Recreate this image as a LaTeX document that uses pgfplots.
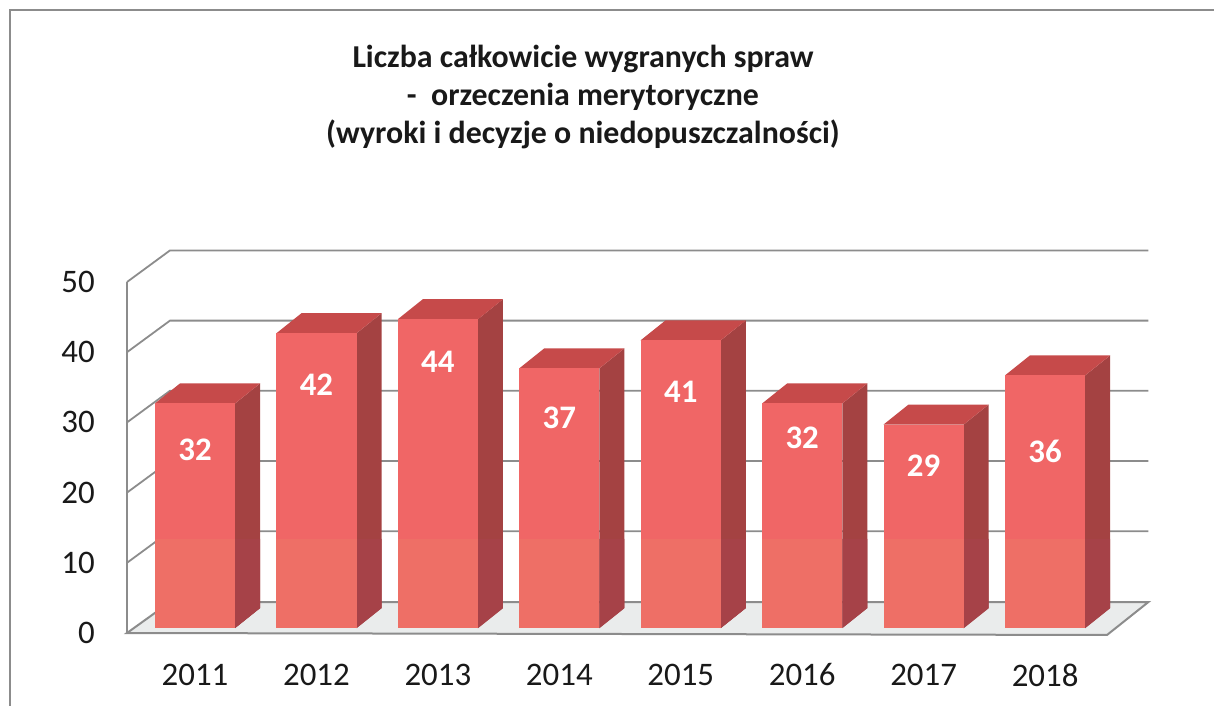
\documentclass[border=0pt]{standalone}
\usepackage{pgfplots}
\pgfplotsset{compat=1.18}
\usepackage{pgfplotstable}
\usepackage{fontspec}
\setmainfont{Carlito}
\definecolor{barfront}{RGB}{240,102,102}
\definecolor{barfrontlow}{RGB}{238,111,102}
\definecolor{barside}{RGB}{164,66,66}
\definecolor{barsidelow}{RGB}{166,66,72}
\definecolor{bartop}{RGB}{198,74,74}
\definecolor{gridgray}{RGB}{140,140,140}
\definecolor{floorgray}{RGB}{234,236,236}
\definecolor{textgray}{RGB}{25,25,25}

\pgfplotstableread{
x year v ly
0 2011 32 26.1
1 2012 42 35.3
2 2013 44 38.6
3 2014 37 30.7
4 2015 41 34.4
5 2016 32 27.8
6 2017 29 23.8
7 2018 36 25.8
}\datatable

\begin{document}
\begin{tikzpicture}
\path[use as bounding box] (0bp,0bp) rectangle (1214bp,-706bp);
\draw[gridgray, line width=2bp] (10bp,-706bp) -- (10bp,-10bp) -- (1214bp,-10bp);
\node[align=center, text=textgray, font=\bfseries\fontsize{32}{38.5}\selectfont] at (583bp,-97bp)
  {Liczba całkowicie wygranych spraw\\-\ \ orzeczenia merytoryczne\\(wyroki i decyzje o niedopuszczalności)};
\begin{axis}[
  at={(127bp,-633bp)}, anchor=south west,
  scale only axis, width=980bp, height=351bp,
  xmin=-0.56, xmax=7.51, ymin=0, ymax=50,
  clip=false,
  axis line style={draw=none},
  major tick length=0pt,
  ytick={0,10,...,50},
  xtick={0,1,...,7},
  xticklabels from table={\datatable}{year},
  /pgf/number format/assume math mode=true,
  tick label style={font=\fontsize{33}{38}\selectfont, text=textgray, inner sep=0pt},
  yticklabel style={anchor=east, xshift=-32bp},
  xticklabel style={anchor=center, yshift=-42bp},
]
% back wall and side wall grid lines
\pgfplotsinvokeforeach{10,20,30,40,50}{
  \pgfmathsetmacro\kb{#1+4.5}
  \edef\gridcmd{\noexpand\draw[gridgray, line width=1.8bp] (axis cs:-0.56,#1) -- (axis cs:-0.206,\kb) -- (axis cs:7.85,\kb);}
  \gridcmd
}
\draw[gridgray, line width=1.8bp] (axis cs:-0.56,0) -- (axis cs:-0.56,50);
% floor
\draw[gridgray, line width=2bp, fill=floorgray] (axis cs:-0.56,0) -- (axis cs:7.51,-0.28) -- (axis cs:7.85,4.4) -- (axis cs:-0.206,4.4) -- cycle;
% bars
\pgfplotsinvokeforeach{0,...,7}{
  \pgfplotstablegetelem{#1}{v}\of\datatable
  \pgfmathsetmacro\xl{#1-0.33}
  \pgfmathsetmacro\xr{#1+0.33}
  \pgfmathsetmacro\xlb{#1-0.33+0.206}
  \pgfmathsetmacro\xrb{#1+0.33+0.206}
  \pgfmathsetmacro\yt{\pgfplotsretval+0.7}
  \pgfmathsetmacro\ytb{\pgfplotsretval+0.7+2.85}
  \edef\barcmd{%
    \noexpand\addplot[fill=barside, draw=none, mark=none] coordinates {(\xr,0.7) (\xrb,3.55) (\xrb,\ytb) (\xr,\yt)} -- cycle;
    \noexpand\addplot[fill=barsidelow, draw=none, mark=none] coordinates {(\xr,0.7) (\xrb,3.55) (\xrb,13.4) (\xr,13.4)} -- cycle;
    \noexpand\addplot[fill=bartop, draw=none, mark=none] coordinates {(\xl,\yt) (\xr,\yt) (\xrb,\ytb) (\xlb,\ytb)} -- cycle;
    \noexpand\addplot[fill=barfront, draw=none, mark=none] coordinates {(\xl,0.7) (\xr,0.7) (\xr,\yt) (\xl,\yt)} -- cycle;
    \noexpand\addplot[fill=barfrontlow, draw=none, mark=none] coordinates {(\xl,0.7) (\xr,0.7) (\xr,13.4) (\xl,13.4)} -- cycle;
  }%
  \barcmd
}
% value labels
\addplot[draw=none, mark=none, point meta=explicit,
  nodes near coords={\pgfmathprintnumber{\pgfplotspointmeta}},
  every node near coord/.append style={anchor=center, text=white, inner sep=0pt,
    font=\bfseries\fontsize{33}{38}\selectfont}]
  table[x=x, y=ly, meta=v] {\datatable};
\end{axis}
\end{tikzpicture}
\end{document}
